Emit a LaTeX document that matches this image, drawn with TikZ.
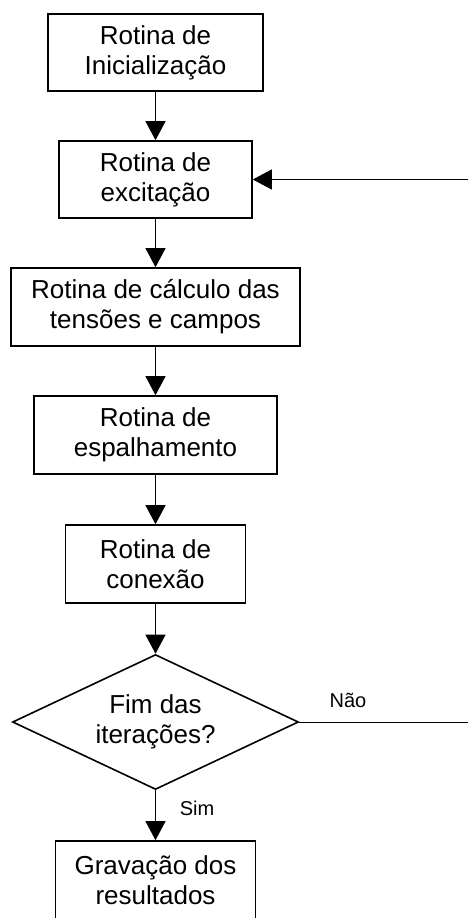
\documentclass[tikz,border=0pt]{standalone}
\usepackage{fontspec}
\setmainfont{Liberation Sans}
\usetikzlibrary{shapes.geometric,arrows.meta}
\begin{document}
\begin{tikzpicture}[x=1pt,y=1pt,
  box/.style={draw,line width=1.6pt,inner sep=0pt,align=center,
    font=\fontsize{26}{30}\selectfont},
  dec/.style={draw,diamond,line width=1.6pt,inner sep=0pt,align=center,
    minimum width=286pt,minimum height=135pt,aspect=2.12,
    font=\fontsize{26}{30}\selectfont},
  arr/.style={line width=1pt,-{Triangle[width=20pt,length=19pt]}},
  lbl/.style={font=\fontsize{20}{24}\selectfont,inner sep=0pt}]
\useasboundingbox (0,0) rectangle (468,-918);
\node[box,minimum width=215pt,minimum height=77pt] (b1) at (155.5,-52.5) {Rotina de\\Inicialização};
\node[box,minimum width=193pt,minimum height=77pt] (b2) at (155.5,-179.5) {Rotina de\\excitação};
\node[box,minimum width=289pt,minimum height=78pt] (b3) at (155.5,-307) {Rotina de cálculo das\\tensões e campos};
\node[box,minimum width=243pt,minimum height=78pt] (b4) at (155.5,-435) {Rotina de\\espalhamento};
\node[box,minimum width=180pt,minimum height=78pt] (b5) at (155.5,-564) {Rotina de\\conexão};
\node[dec] (d) at (155.5,-722) {Fim das\\iterações?};
\node[box,minimum width=200pt,minimum height=78pt] (b6) at (155.5,-880) {Gravação dos\\resultados};
\coordinate (c) at (476,-722);
\draw[arr] (b1.south) -- (b2.north);
\draw[arr] (b2.south) -- (b3.north);
\draw[arr] (b3.south) -- (b4.north);
\draw[arr] (b4.south) -- (b5.north);
\draw[arr] (b5.south) -- (d.north);
\draw[arr] (d.south) -- (b6.north);
\draw[arr] (d.east) -- (c) |- (b2.east);
\node[lbl] (nao) at (348,-700) {Não};
\node[lbl] (sim) at (197,-808) {Sim};
\end{tikzpicture}
\end{document}
